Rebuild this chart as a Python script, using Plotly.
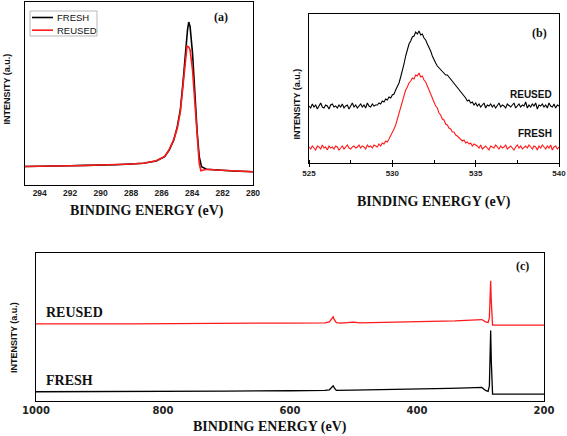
import plotly.graph_objects as go

W, H = 567, 436

def px(x):
    return x / W

def py(y):
    return 1 - y / H

SANS = "Liberation Sans, Arial, sans-serif"
SERIF = "Liberation Serif, Times New Roman, serif"

# ---------------- Panel (a): C1s region ----------------
a_fresh_energy = [295.0, 294.0, 293.0, 292.0, 291.0, 290.0, 289.0, 288.0, 287.2, 286.35,
                  285.8, 285.5, 285.2, 284.97, 284.77, 284.6, 284.44, 284.3, 284.22, 284.13,
                  283.97, 283.82, 283.66, 283.53, 283.38, 283.05, 282.4, 281.3, 280.0]
a_fresh = [18.5, 19.0, 19.0, 19.3, 19.6, 19.8, 20.3, 21.0, 21.7, 24.0,
           28.3, 35.0, 45.0, 58.3, 75.0, 101.7, 131.7, 155.0, 163.0, 158.3,
           131.7, 91.7, 51.7, 28.3, 18.3, 15.7, 15.0, 14.0, 13.3]
a_reused_energy = [295.0, 294.0, 293.0, 292.0, 291.0, 290.0, 289.0, 288.0, 287.2, 286.35,
                   285.8, 285.5, 285.2, 284.97, 284.77, 284.6, 284.44, 284.33, 284.22, 284.13,
                   283.97, 283.82, 283.66, 283.53, 283.42, 283.3, 283.05, 282.4, 281.3, 280.0]
a_reused = [18.5, 19.0, 19.1, 19.3, 19.5, 19.9, 20.4, 21.0, 21.8, 24.2,
            28.5, 35.3, 45.5, 56.7, 73.3, 98.3, 125.0, 139.0, 138.0, 135.0,
            115.0, 81.7, 41.7, 21.7, 14.3, 15.0, 15.7, 15.0, 14.0, 13.3]
a_ticks = [294, 292, 290, 288, 286, 284, 282, 280]
legend_names = ["FRESH", "REUSED"]
legend_colors = ["black", "#ff1a1a"]

# ---------------- Panel (b): O1s region ----------------
b_energy = [round(525 + 0.1 * i, 1) for i in range(151)]
b_reused = [57, 55, 59, 56, 58, 54, 57, 60, 56, 55, 58, 57, 54, 58, 59, 56, 57, 55, 58, 56,
            59, 55, 57, 58, 54, 57, 60, 56, 58, 55, 57, 59, 56, 58, 55, 60, 57, 56, 59, 57, 58,
            58, 60, 59, 62, 61, 64, 63, 66, 65, 68,
            69, 73, 76, 80, 86, 92, 99, 107, 113, 119,
            122, 126, 127, 131, 129, 132, 128, 129, 125, 123,
            119, 116, 112, 107, 103, 100, 97, 95, 93, 91,
            90, 88, 88, 86, 84, 82, 80, 78, 76, 74,
            71, 70, 67, 65, 62, 63, 60, 61, 58, 60,
            57, 59, 56, 58, 60, 55, 58, 57, 59, 56,
            58, 55, 57, 60, 56, 58, 57, 55, 59, 57,
            56, 58, 60, 55, 57, 59, 56, 58, 57, 61,
            55, 58, 56, 59, 57, 60, 54, 58, 57, 59,
            56, 58, 55, 60, 57, 56, 59, 55, 58, 57]
b_fresh = [16, 14, 17, 15, 13, 17, 16, 14, 18, 15, 16, 13, 17, 15, 16, 14, 17, 16, 13, 15,
           17, 14, 16, 18, 15, 14, 16, 17, 15, 16, 18, 15, 17, 16, 14, 18, 16, 17, 15, 18, 17,
           16, 19, 17, 20, 19, 22, 21, 24, 27, 30,
           34, 38, 44, 50, 56, 62, 67, 73, 76, 80,
           82, 85, 84, 88, 87, 90, 86, 87, 83, 81,
           77, 73, 70, 65, 62, 57, 55, 50, 48, 44,
           43, 39, 38, 35, 34, 31, 31, 28, 27, 25,
           24, 22, 23, 20, 21, 19, 20, 17, 19, 18,
           17, 15, 18, 14, 16, 17, 15, 13, 17, 16,
           15, 18, 16, 14, 17, 15, 16, 18, 14, 16,
           17, 15, 13, 16, 18, 15, 17, 14, 16, 17,
           15, 18, 16, 14, 17, 16, 13, 17, 15, 18,
           16, 14, 17, 15, 18, 13, 16, 17, 14, 16]

# ---------------- Panel (c): survey ----------------
c_reused_energy = [1000, 950, 900, 850, 800, 750, 700, 650, 600, 560, 545, 538, 534, 532, 530,
                   527, 520, 500, 490, 450, 400, 360, 340, 320, 305, 298, 292, 288, 286, 285,
                   284, 283, 282, 281, 270, 250, 200]
c_reused = [232, 231, 232, 232, 233, 233, 234, 234, 234, 235, 235, 238, 250, 253, 244,
            236, 234, 237, 235, 236, 237, 240, 241, 243, 246, 245, 238, 236, 250, 300,
            362, 300, 240, 228, 228, 228, 228]
c_fresh_energy = [1000, 900, 800, 700, 600, 560, 545, 538, 534, 532, 530, 527, 500, 450, 400,
                  350, 320, 305, 298, 292, 288, 286, 285, 284, 283, 282, 281, 270, 200]
c_fresh = [27, 27, 28, 29, 30, 30, 31, 33, 43, 45, 38, 31, 32, 33, 34,
           37, 39, 41, 40, 31, 28, 45, 120, 212, 120, 35, 20, 20, 20]
c_ticks = [1000, 800, 600, 400, 200]

X_TITLE = "BINDING ENERGY (eV)"
Y_TITLE = "INTENSITY (a.u.)"

fig = go.Figure()

# panel (a)
fig.add_trace(go.Scatter(x=a_fresh_energy, y=a_fresh, mode="lines", name=legend_names[0],
                         showlegend=False,
                         line=dict(color=legend_colors[0], width=1.6), xaxis="x", yaxis="y"))
fig.add_trace(go.Scatter(x=a_reused_energy, y=a_reused, mode="lines", name=legend_names[1],
                         showlegend=False,
                         line=dict(color=legend_colors[1], width=1.6), xaxis="x", yaxis="y"))
# panel (b)
fig.add_trace(go.Scatter(x=b_energy, y=b_reused, mode="lines", name="REUSED", showlegend=False,
                         line=dict(color="black", width=1.1), xaxis="x2", yaxis="y2"))
fig.add_trace(go.Scatter(x=b_energy, y=b_fresh, mode="lines", name="FRESH", showlegend=False,
                         line=dict(color="#ff1a1a", width=1.1), xaxis="x2", yaxis="y2"))
# panel (c)
fig.add_trace(go.Scatter(x=c_reused_energy, y=c_reused, mode="lines", name="REUSED", showlegend=False,
                         line=dict(color="#ff1a1a", width=1.3), xaxis="x3", yaxis="y3"))
fig.add_trace(go.Scatter(x=c_fresh_energy, y=c_fresh, mode="lines", name="FRESH", showlegend=False,
                         line=dict(color="black", width=1.3), xaxis="x3", yaxis="y3"))

box = dict(showline=True, mirror=True, linecolor="black", linewidth=1,
           showgrid=False, zeroline=False, automargin=False)
tickf = dict(family=SANS, size=8.5, color="#222", weight="bold")

fig.update_layout(
    width=W, height=H,
    margin=dict(l=0, r=0, t=0, b=0),
    paper_bgcolor="white", plot_bgcolor="white",
    showlegend=False,
    xaxis=dict(domain=[px(24.5), px(253)], range=[295, 280], tickvals=a_ticks,
               ticks="", ticklen=0, tickfont=tickf, ticklabeloverflow="allow",
               anchor="y", **box),
    yaxis=dict(domain=[py(185), py(2)], range=[0, 183], showticklabels=False, ticks="",
               anchor="x", **box),
    xaxis2=dict(domain=[px(309), px(559)], range=[525, 540], tick0=525, dtick=5,
                ticks="outside", ticklen=3, tickcolor="black", ticklabeloverflow="allow",
                minor=dict(ticks="inside", ticklen=3, dtick=2.5, tick0=525, tickcolor="black"),
                tickfont=dict(family=SANS, size=8, color="#222", weight="bold"),
                anchor="y2", **box),
    yaxis2=dict(domain=[py(162.7), py(14)], range=[0.3, 149], showticklabels=False, ticks="",
                anchor="x2", **box),
    xaxis3=dict(domain=[px(36), px(544)], range=[1000, 200], tickvals=c_ticks,
                ticks="", ticklen=0, ticklabeloverflow="allow",
                tickfont=dict(family="DejaVu Sans", size=10, color="#222", weight="bold"),
                anchor="y3", **box),
    yaxis3=dict(domain=[py(400.7), py(253.3)], range=[0, 445], showticklabels=False, ticks="",
                anchor="x3", **box),
)


def note(text, x, y, font, xanchor="center", **kw):
    fig.add_annotation(text=text, x=px(x), y=py(y), xref="paper", yref="paper",
                       xanchor=xanchor, yanchor="middle", showarrow=False, font=font, **kw)


# axis titles
xt = dict(family=SERIF, size=14, color="#111", weight="bold")
yt = dict(family=SANS, size=9, color="#111", weight="bold")
for (xx, yy) in [(147, 211), (434, 202), (270, 427)]:
    note(X_TITLE, xx, yy, xt)
for (xx, yy) in [(6, 89.5), (296.5, 104), (14, 338)]:
    note(Y_TITLE, xx, yy, yt, textangle=-90)

# legend of panel (a): frame, line samples and names
fig.add_shape(type="rect", xref="paper", yref="paper", x0=px(30), x1=px(97), y0=py(36), y1=py(11),
              line=dict(color="#b8b8b8", width=1), fillcolor="white", layer="above")
for i, (nm, col) in enumerate(zip(legend_names, legend_colors)):
    yy = 17.5 + 12.7 * i
    fig.add_shape(type="line", xref="paper", yref="paper", x0=px(32), x1=px(53), y0=py(yy), y1=py(yy),
                  line=dict(color=col, width=1.6), layer="above")
    note(nm, 55, yy, dict(family=SANS, size=9.5, color="#111"), xanchor="left")

lab = dict(family=SERIF, size=12, color="#111", weight="bold")
note("(a)", 221, 17, lab)
note("(b)", 539, 33, lab)
note("(c)", 522, 266, lab)

inl = dict(family=SANS, size=10, color="#111", weight="bold")
note("REUSED", 554, 94, inl, xanchor="right")
note("FRESH", 554, 133, inl, xanchor="right")

inc = dict(family=SERIF, size=14, color="#111", weight="bold")
note("REUSED", 44, 312, inc, xanchor="left")
note("FRESH", 44, 380, inc, xanchor="left")

# the page's default 8px body margin would shift the figure; remove it, and hide the modebar
fig.write_html("out.html", config={"displayModeBar": False},
               post_script="document.body.style.margin='0px';")
